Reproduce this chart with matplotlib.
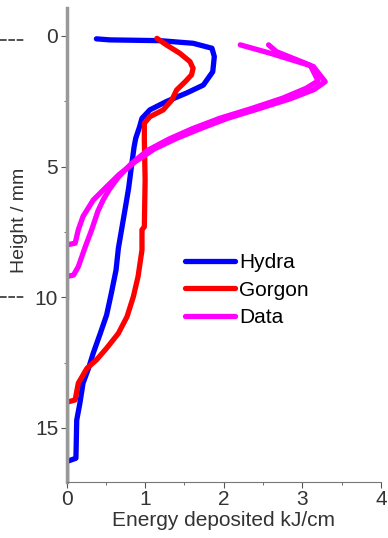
import matplotlib.pyplot as plt
from matplotlib.lines import Line2D
from matplotlib.ticker import MultipleLocator

plt.rcParams['font.family'] = ['Liberation Sans', 'DejaVu Sans']

# Hydra simulation (energy kJ/cm vs height mm)
hydra_x = [0.38, 0.55, 1.19, 1.61, 1.85, 1.88, 1.86, 1.74, 1.53, 1.27, 1.06, 0.96, 0.93,
           0.88, 0.86, 0.82, 0.79, 0.74, 0.70, 0.66, 0.63, 0.57, 0.51, 0.43, 0.34, 0.28,
           0.21, 0.17, 0.13, 0.12, 0.0, 0.0]
hydra_y = [0.11, 0.15, 0.18, 0.28, 0.47, 0.79, 1.37, 1.88, 2.18, 2.51, 2.83, 3.15, 3.47,
           3.92, 4.24, 5.13, 5.83, 6.72, 7.42, 8.12, 8.96, 9.85, 10.68, 11.38, 12.14, 12.72,
           13.29, 14.06, 14.70, 16.16, 16.29, 17.1]

# Gorgon simulation
gorgon_x = [1.15, 1.27, 1.44, 1.57, 1.61, 1.59, 1.51, 1.40, 1.34, 1.23, 1.06, 0.99, 0.99,
            1.00, 0.99, 0.96, 0.96, 0.91, 0.85, 0.77, 0.66, 0.51, 0.38, 0.26, 0.15, 0.11,
            0.0, 0.0]
gorgon_y = [0.09, 0.34, 0.66, 0.98, 1.24, 1.49, 1.75, 2.07, 2.45, 2.83, 3.09, 3.34, 3.98,
            5.5, 7.3, 7.42, 8.19, 9.21, 9.98, 10.74, 11.38, 11.95, 12.40, 12.72, 13.29, 13.93,
            14.02, 16.2]

# measured data, two shots
data1_x = [2.21, 2.59, 3.14, 3.29, 3.15, 2.85, 2.45, 2.05, 1.70, 1.40, 1.12, 0.88, 0.67,
           0.50, 0.34, 0.21, 0.15, 0.11, 0.0, 0.0]
data1_y = [0.34, 0.66, 1.17, 1.75, 2.05, 2.40, 2.78, 3.15, 3.55, 3.92, 4.32, 4.80, 5.30,
           5.80, 6.28, 6.91, 7.42, 7.93, 8.00, 10.1]
data2_x = [2.57, 2.67, 3.10, 3.20, 3.05, 2.75, 2.35, 1.95, 1.60, 1.30, 1.03, 0.82, 0.66,
           0.55, 0.47, 0.40, 0.32, 0.24, 0.15, 0.09, 0.0]
data2_y = [0.34, 0.60, 1.12, 1.72, 2.00, 2.38, 2.78, 3.15, 3.55, 3.95, 4.38, 4.90, 5.40,
           5.85, 6.25, 6.70, 7.42, 8.06, 8.83, 9.15, 9.21]

fig = plt.figure(figsize=(3.88, 5.38), dpi=100)
ax = fig.add_axes([66.5 / 388, 1 - 482 / 538, (381 - 66.5) / 388, (482 - 8) / 538])

lw = 3.8
ax.plot(hydra_x, hydra_y, color='#0000ff', lw=lw, label='Hydra', solid_capstyle='round')
ax.plot(gorgon_x, gorgon_y, color='#ff0000', lw=lw, label='Gorgon', solid_capstyle='round')
ax.plot(data1_x, data1_y, color='#ff00ff', lw=lw, label='Data', solid_capstyle='round')
ax.plot(data2_x, data2_y, color='#ff00ff', lw=lw, solid_capstyle='round')

ax.set_xlim(0, 4)
ax.set_ylim(17.07, -1.07)
ax.xaxis.set_major_locator(MultipleLocator(1))
ax.xaxis.set_minor_locator(MultipleLocator(0.5))
ax.yaxis.set_major_locator(MultipleLocator(5))
ax.yaxis.set_minor_locator(MultipleLocator(2.5))

for s in ['top', 'right']:
    ax.spines[s].set_visible(False)
ax.spines['left'].set_color('#999999')
ax.spines['left'].set_linewidth(2.5)
ax.spines['bottom'].set_color('#777777')
ax.spines['bottom'].set_linestyle((0, (1, 1)))
ax.spines['bottom'].set_linewidth(0.8)

ax.tick_params(axis='both', which='major', labelsize=15, length=4, width=0.8,
               color='#555555', labelcolor='#333333', pad=2)
ax.tick_params(axis='both', which='minor', length=2, width=0.6, color='#555555')

ax.set_xlabel('Energy deposited kJ/cm', fontsize=15, color='#333333', labelpad=1)
ax.set_ylabel('Height / mm', fontsize=14, color='#333333')
ax.yaxis.set_label_coords(-0.122, 0.553)

ax.legend(loc='upper left', bbox_to_anchor=(0.35, 0.50), frameon=False, fontsize=15,
          handlelength=2.4, handletextpad=0.2, labelspacing=0.4, borderaxespad=0)

# stray dashes left of the axis
for yy in [40, 297]:
    fig.add_artist(Line2D([0.0, 25 / 388], [1 - yy / 538, 1 - yy / 538], color='#333333',
                          lw=1.2, linestyle=(0, (4, 1))))

fig.savefig('out.png', dpi=100)
